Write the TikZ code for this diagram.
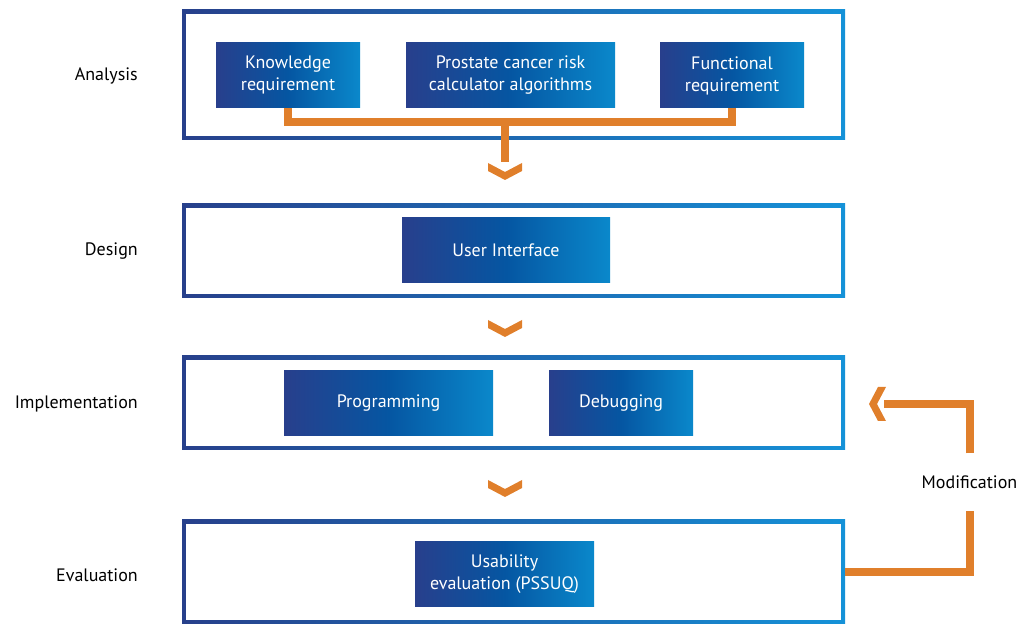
\documentclass[tikz,border=0pt]{standalone}
\usepackage{fontspec}
\setmainfont{PT Sans}
\usetikzlibrary{positioning}

\definecolor{frameL}{HTML}{27408B}
\definecolor{frameR}{HTML}{1592D8}
\definecolor{boxL}{HTML}{283F8C}
\definecolor{boxM}{HTML}{0556A2}
\definecolor{boxR}{HTML}{0A88CB}
\definecolor{arrowor}{HTML}{E07F2B}

\begin{document}
\begin{tikzpicture}[x=1pt,y=1pt,
  stage/.style={inner sep=0, minimum width=663pt, left color=frameL, right color=frameR,
    path picture={\fill[white] ([shift={(4pt,4pt)}]path picture bounding box.south west)
      rectangle ([shift={(-4pt,-4pt)}]path picture bounding box.north east);}},
  task/.style={inner sep=0, minimum height=65pt, align=center, text=white,
    font=\fontsize{18}{22}\selectfont, left color=boxL, right color=boxR, middle color=boxM},
  phase/.style={anchor=east, inner sep=0, font=\fontsize{18}{22}\selectfont},
  flow/.style={draw=arrowor, line width=8pt},
  chev/.pic={\fill[arrowor] (-17,0) -- (0,-9) -- (17,0) -- (17,-8) -- (0,-17) -- (-17,-8) -- cycle;}]

  \useasboundingbox (0,0) rectangle (1017,626);

  % The stages
  \node [stage, minimum height=130pt] at (513.5,551) (ana) {};
  \node [stage, minimum height=94pt] at (513.5,375) (des) {};
  \node [stage, minimum height=94pt] at (513.5,223) (imp) {};
  \node [stage, minimum height=104pt] at (513.5,54) (eva) {};

  \node [phase] at (138,550) (anal) {Analysis};
  \node [phase] at (138,375) (desl) {Design};
  \node [phase] at (138,222) (impl) {Implementation};
  \node [phase] at (138,51) (eval) {Evaluation};

  % The tasks
  \node [task, minimum width=144pt] at (288,550.5) (know) {Knowledge\\requirement};
  \node [task, minimum width=209pt] at (510.5,550.5) (pcrc) {Prostate cancer risk\\calculator algorithms};
  \node [task, minimum width=144pt] at (732,550.5) (func) {Functional\\requirement};
  \node [task, minimum width=208pt] at (506,375.5) (ui) {User Interface};
  \node [task, minimum width=209pt] at (388.5,222.5) (prog) {Programming};
  \node [task, minimum width=144pt] at (621,222.5) (debug) {Debugging};
  \node [task, minimum width=179pt] at (504.5,51.5) (pssuq) {Usability\\evaluation (PSSUQ)};

  \node [font=\fontsize{18}{22}\selectfont, inner xsep=0, inner ysep=22pt] at (969.5,144) (mod) {Modification};

  % Connectors
  \coordinate (join) at (505,504);
  \coordinate (down) at (505,464);
  \coordinate (back) at (884,222);

  \draw [flow] (know.south) |- (join) -| (func.south);
  \draw [flow] (join) -- (down);
  \draw [flow] (eva.east) -| (mod.south);
  \draw [flow] (mod.north) |- (back);

  \pic at (505,463) {chev};
  \pic at (505,306) {chev};
  \pic at (505,146) {chev};
  \pic [rotate=-90] at (886,222) {chev};

\end{tikzpicture}
\end{document}
